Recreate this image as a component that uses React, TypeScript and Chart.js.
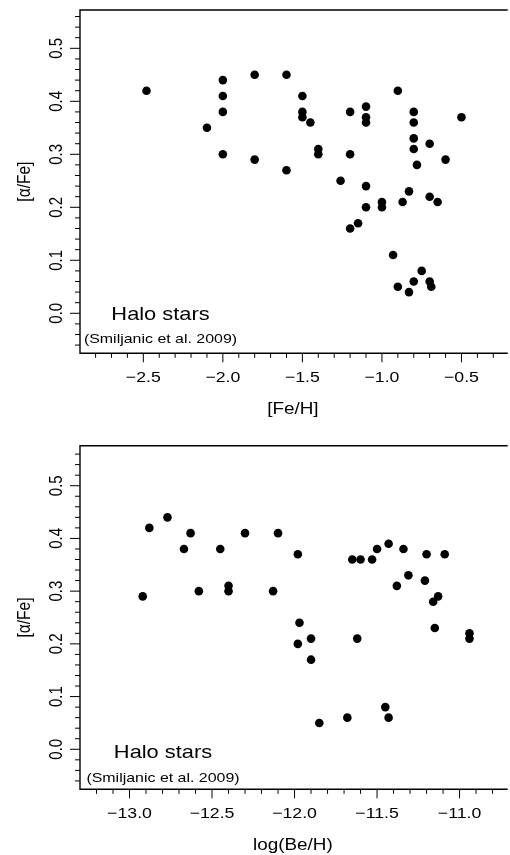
import React, { useEffect, useRef } from "react";
import { Chart, registerables } from "chart.js";

Chart.register(...registerables);

// ---------- data: top panel ([Fe/H] vs [alpha/Fe]) ----------
const feH = [
  -2.48, -2.0, -2.0, -2.0, -2.1, -2.0, -1.8, -1.8, -1.6, -1.5,
  -1.5, -1.5, -1.45, -1.4, -1.4, -1.6, -1.2, -1.2, -1.1, -1.1,
  -1.1, -0.9, -0.8, -0.8, -0.8, -0.8, -0.7, -0.5, -0.78, -0.6,
  -1.26, -1.1, -0.83, -0.7, -0.65, -1.1, -1.0, -1.0, -0.87, -1.15,
  -1.2, -0.93, -0.75, -0.8, -0.7, -0.69, -0.9, -0.83,
];
const alphaFeTop = [
  0.42, 0.44, 0.41, 0.38, 0.35, 0.30, 0.45, 0.29, 0.45, 0.41,
  0.38, 0.37, 0.36, 0.31, 0.30, 0.27, 0.38, 0.30, 0.39, 0.37,
  0.36, 0.42, 0.38, 0.36, 0.33, 0.31, 0.32, 0.37, 0.28, 0.29,
  0.25, 0.24, 0.23, 0.22, 0.21, 0.20, 0.21, 0.20, 0.21, 0.17,
  0.16, 0.11, 0.08, 0.06, 0.06, 0.05, 0.05, 0.04,
];

// ---------- data: bottom panel (log(Be/H) vs [alpha/Fe]) ----------
const beH = [
  -12.92, -12.88, -12.77, -12.67, -12.63, -12.58, -12.45, -12.4, -12.4, -12.3,
  -12.1, -11.98, -12.13, -11.97, -11.65, -11.6, -11.53, -11.5, -11.43, -11.34,
  -11.2, -11.09, -11.38, -11.31, -11.21, -11.13, -11.16, -11.15, -10.94, -10.94,
  -11.98, -11.9, -11.9, -11.62, -11.85, -11.68, -11.45, -11.43,
];
const alphaFeBottom = [
  0.29, 0.42, 0.44, 0.38, 0.41, 0.30, 0.38, 0.31, 0.30, 0.41,
  0.41, 0.37, 0.30, 0.24, 0.36, 0.36, 0.36, 0.38, 0.39, 0.38,
  0.37, 0.37, 0.31, 0.33, 0.32, 0.29, 0.28, 0.23, 0.22, 0.21,
  0.20, 0.21, 0.17, 0.21, 0.05, 0.06, 0.08, 0.06,
];

// ---------- tick labels ----------
const feTickValues = [-2.5, -2.0, -1.5, -1.0, -0.5];
const feTickLabels = ["\u22122.5", "\u22122.0", "\u22121.5", "\u22121.0", "\u22120.5"];
const beTickValues = [-13.0, -12.5, -12.0, -11.5, -11.0];
const beTickLabels = ["\u221213.0", "\u221212.5", "\u221212.0", "\u221211.5", "\u221211.0"];
const alphaTickValues = [0.0, 0.1, 0.2, 0.3, 0.4, 0.5];
const alphaTickLabels = ["0.0", "0.1", "0.2", "0.3", "0.4", "0.5"];

const titleText = "Halo stars";
const sourceText = "(Smiljanic et al. 2009)";
const yTitle = "[\u03b1/Fe]";

const FONT = "'Liberation Sans', Arial, Helvetica, sans-serif";
const SX = 1.18; // horizontal stretch of the reference's lettering

type PanelCfg = {
  xTicks: number[];
  xLabels: string[];
  xMinorStep: number;
  xMajorEvery: number;
  xTitle: string;
  labelsOffset: number;
  titleOffset: number;
  haloX: number;
  haloOffset: number;
  sourceOffset: number;
};

function drawText(
  ctx: CanvasRenderingContext2D,
  text: string,
  x: number,
  y: number,
  font: string,
  align: CanvasTextAlign,
  rotate: boolean
) {
  ctx.save();
  ctx.translate(x, y);
  ctx.scale(SX, 1);
  if (rotate) ctx.rotate(-Math.PI / 2);
  ctx.font = font;
  ctx.fillStyle = "#000";
  ctx.textAlign = align;
  ctx.textBaseline = "alphabetic";
  ctx.fillText(text, 0, 0);
  ctx.restore();
}

function framePlugin(cfg: PanelCfg) {
  return {
    id: "rframe",
    afterDraw(chart: any) {
      const ctx: CanvasRenderingContext2D = chart.ctx;
      const { left, right, top, bottom } = chart.chartArea;
      const xs = chart.scales.x;
      const ys = chart.scales.y;
      ctx.save();
      ctx.strokeStyle = "#000";
      ctx.lineWidth = 1.4;
      ctx.beginPath();
      ctx.moveTo(right + 2, top);
      ctx.lineTo(left, top);
      ctx.lineTo(left, bottom);
      ctx.lineTo(right + 2, bottom);
      ctx.stroke();

      ctx.lineWidth = 1;
      // x ticks
      const x0 = Math.ceil(xs.min / cfg.xMinorStep - 1e-6);
      const x1 = Math.floor(xs.max / cfg.xMinorStep + 1e-6);
      for (let i = x0; i <= x1; i++) {
        const v = i * cfg.xMinorStep;
        const px = xs.getPixelForValue(v);
        if (px < left + 0.5 || px > right) continue;
        const major = Math.abs(i % cfg.xMajorEvery) === 0;
        ctx.beginPath();
        ctx.moveTo(px, bottom);
        ctx.lineTo(px, bottom + (major ? 9 : 4.5));
        ctx.stroke();
      }
      // y ticks (minor every 0.02, major every 0.1)
      const y0 = Math.ceil(ys.min * 50 - 1e-6);
      const y1 = Math.floor(ys.max * 50 + 1e-6);
      for (let i = y0; i <= y1; i++) {
        const py = ys.getPixelForValue(i / 50);
        const major = Math.abs(i % 5) === 0;
        ctx.beginPath();
        ctx.moveTo(left, py);
        ctx.lineTo(left - (major ? 10 : 5), py);
        ctx.stroke();
      }
      ctx.restore();

      const tickFont = `15px ${FONT}`;
      cfg.xTicks.forEach((v, i) => {
        drawText(ctx, cfg.xLabels[i], xs.getPixelForValue(v), bottom + cfg.labelsOffset, tickFont, "center", false);
      });
      alphaTickValues.forEach((v, i) => {
        drawText(ctx, alphaTickLabels[i], left - 18.5, ys.getPixelForValue(v), tickFont, "center", true);
      });
      drawText(ctx, cfg.xTitle, (left + right) / 2, bottom + cfg.titleOffset, `16px ${FONT}`, "center", false);
      drawText(ctx, yTitle, 30, (top + bottom) / 2, `15.5px ${FONT}`, "center", true);
      drawText(ctx, titleText, cfg.haloX, bottom - cfg.haloOffset, `18.5px ${FONT}`, "center", false);
      drawText(ctx, sourceText, cfg.haloX, bottom - cfg.sourceOffset, `13.5px ${FONT}`, "center", false);
    },
  };
}

function Panel(props: {
  xs: number[];
  ys: number[];
  xMin: number;
  xMax: number;
  yMin: number;
  yMax: number;
  height: number;
  pad: { left: number; top: number; right: number; bottom: number };
  cfg: PanelCfg;
  top: number;
}) {
  const ref = useRef<HTMLCanvasElement | null>(null);
  useEffect(() => {
    if (!ref.current) return;
    const points = props.xs.map((x, i) => ({ x, y: props.ys[i] }));
    const chart = new Chart(ref.current, {
      type: "scatter",
      data: {
        datasets: [
          {
            data: points,
            pointRadius: 4.3,
            pointHoverRadius: 4.3,
            pointBackgroundColor: "#000",
            pointBorderWidth: 0,
            pointBorderColor: "#000",
          },
        ],
      },
      options: {
        animation: false,
        responsive: false,
        events: [],
        layout: { padding: props.pad },
        plugins: { legend: { display: false }, tooltip: { enabled: false }, title: { display: false } },
        scales: {
          x: { type: "linear", display: false, min: props.xMin, max: props.xMax },
          y: { type: "linear", display: false, min: props.yMin, max: props.yMax },
        },
      },
      plugins: [framePlugin(props.cfg)],
    } as any);
    return () => chart.destroy();
  }, []);
  return (
    <canvas
      ref={ref}
      width={510}
      height={props.height}
      style={{ position: "absolute", left: 0, top: props.top, width: 510, height: props.height, display: "block" }}
    />
  );
}

export default function App() {
  return (
    <div style={{ position: "absolute", left: 0, top: 0, width: 510, height: 855, background: "#fff", overflow: "hidden" }}>
      <Panel
        xs={feH}
        ys={alphaFeTop}
        xMin={-2.898}
        xMax={-0.222}
        yMin={-0.0755}
        yMax={0.5723}
        height={427}
        top={0}
        pad={{ left: 80, top: 10, right: 0, bottom: 73.7 }}
        cfg={{
          xTicks: feTickValues,
          xLabels: feTickLabels,
          xMinorStep: 0.1,
          xMajorEvery: 5,
          xTitle: "[Fe/H]",
          labelsOffset: 29,
          titleOffset: 61,
          haloX: 160.5,
          haloOffset: 33.3,
          sourceOffset: 10.3,
        }}
      />
      <Panel
        xs={beH}
        ys={alphaFeBottom}
        xMin={-13.3}
        xMax={-10.7205}
        yMin={-0.0759}
        yMax={0.5759}
        height={428}
        top={427}
        pad={{ left: 80, top: 18.7, right: 0, bottom: 65.7 }}
        cfg={{
          xTicks: beTickValues,
          xLabels: beTickLabels,
          xMinorStep: 0.1,
          xMajorEvery: 5,
          xTitle: "log(Be/H)",
          labelsOffset: 29,
          titleOffset: 60.7,
          haloX: 163,
          haloOffset: 31.6,
          sourceOffset: 7.6,
        }}
      />
    </div>
  );
}
